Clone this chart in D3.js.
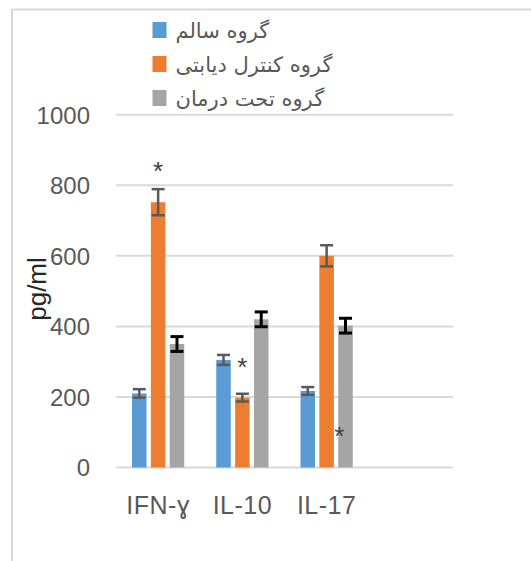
<!DOCTYPE html>
<html><head><meta charset="utf-8">
<script src="https://cdn.jsdelivr.net/npm/d3@7"></script>
<style>body{margin:0;background:#fff}svg{display:block}</style>
</head><body>
<svg id="c" width="531" height="561"></svg>
<script>
const categories = ["IFN-ɣ", "IL-10", "IL-17"];
const seriesNames = ["گروه سالم", "گروه کنترل دیابتی", "گروه تحت درمان"];
const healthy = [210, 305, 217];
const diabetic = [752, 198, 600];
const treated = [350, 420, 402];
const healthyErr = [12, 14, 11];
const diabeticErr = [37, 11, 30];
const treatedErr = [21, 21, 21];
const yTicks = [0, 200, 400, 600, 800, 1000];
const yLabel = "pg/ml";
// significance marks: category index, series index, value level
const marks = [
  {cat: 0, ser: 1, value: 856},
  {cat: 1, ser: 1, value: 298},
  {cat: 2, ser: 2, value: 104}
];

const colors = ["#5b9bd5", "#ed7d31", "#a5a5a5"];
const errColors = ["#595959", "#595959", "#000000"];
const values = [healthy, diabetic, treated];
const errs = [healthyErr, diabeticErr, treatedErr];

const svg = d3.select("#c");

// frame
svg.append("path").attr("d", "M12,561 V9.5 H531")
  .attr("fill", "none").attr("stroke", "#d9d9d9").attr("stroke-width", 2);

const x0 = d3.scaleBand().domain(categories.concat([" "])).range([116, 453])
  .paddingInner(0.38).paddingOuter(0.19);
const x1 = d3.scaleBand().domain([0, 1, 2]).range([0, x0.bandwidth()]).paddingInner(0.23);
const y = d3.scaleLinear().domain([0, 1000]).range([467.5, 114.7]);

// gridlines
svg.append("g").selectAll("line").data(yTicks).join("line")
  .attr("x1", 116).attr("x2", 453)
  .attr("y1", d => y(d)).attr("y2", d => y(d))
  .attr("stroke", "#d9d9d9").attr("stroke-width", 2);

// y axis labels
const yAxis = d3.axisLeft(y).tickValues(yTicks).tickFormat(d3.format("d")).tickSize(0).tickPadding(0);
const ga = svg.append("g").attr("transform", "translate(90,0)").call(yAxis);
ga.select(".domain").remove();
ga.selectAll("text").attr("font-family", "Liberation Sans, Arial, sans-serif")
  .attr("font-size", 24).attr("fill", "#595959").attr("dy", "0.35em");

// x axis labels
const xAxis = d3.axisBottom(x0).tickValues(categories).tickSize(0).tickPadding(0);
const gx = svg.append("g").attr("transform", "translate(0,514)").call(xAxis);
gx.select(".domain").remove();
gx.selectAll("text").attr("font-family", "Liberation Sans, Arial, sans-serif")
  .attr("font-size", 25).attr("fill", "#595959").attr("dy", "0").attr("y", 0)
  .attr("letter-spacing", "0.5px");

// bars
const data = [];
categories.forEach((c, i) => {
  values.forEach((s, j) => data.push({c, j, v: s[i], e: errs[j][i]}));
});
svg.append("g").selectAll("rect").data(data).join("rect")
  .attr("x", d => x0(d.c) + x1(d.j))
  .attr("width", x1.bandwidth())
  .attr("y", d => y(d.v))
  .attr("height", d => y(0) - y(d.v))
  .attr("fill", d => colors[d.j]);

// error bars
const eb = svg.append("g").selectAll("g").data(data).join("g")
  .attr("stroke", d => errColors[d.j])
  .attr("stroke-width", d => d.j === 2 ? 3 : 2.5);
const cx = d => x0(d.c) + x1(d.j) + x1.bandwidth() / 2;
eb.append("line").attr("x1", cx).attr("x2", cx)
  .attr("y1", d => y(d.v + d.e)).attr("y2", d => y(d.v - d.e));
eb.append("line").attr("x1", d => cx(d) - 6.5).attr("x2", d => cx(d) + 6.5)
  .attr("y1", d => y(d.v + d.e)).attr("y2", d => y(d.v + d.e));
eb.append("line").attr("x1", d => cx(d) - 6.5).attr("x2", d => cx(d) + 6.5)
  .attr("y1", d => y(d.v - d.e)).attr("y2", d => y(d.v - d.e));

// asterisks
svg.append("g").selectAll("text").data(marks).join("text")
  .attr("x", d => x0(categories[d.cat]) + x1(d.ser) + (d.ser === 2 ? 1 : x1.bandwidth() / 2))
  .attr("y", d => y(d.value) + 14)
  .attr("text-anchor", "middle")
  .attr("font-family", "Liberation Sans, Arial, sans-serif")
  .attr("font-size", 26).attr("fill", "#404040").text("*");

// y label
svg.append("text").attr("transform", "translate(46,289) rotate(-90)")
  .attr("text-anchor", "middle")
  .attr("font-family", "Liberation Sans, Arial, sans-serif")
  .attr("font-size", 26).attr("fill", "#262626").text(yLabel);

// legend
const lg = svg.append("g").selectAll("g").data(seriesNames).join("g")
  .attr("transform", (d, i) => `translate(152.5,${30 + i * 34})`);
lg.append("rect").attr("x", 0).attr("y", -8).attr("width", 14).attr("height", 16)
  .attr("fill", (d, i) => colors[i]);
lg.append("text").attr("x", 23).attr("y", 8)
  .attr("font-family", "DejaVu Sans, sans-serif")
  .attr("font-size", 21).attr("fill", "#595959").text(d => d);
</script>
</body></html>
